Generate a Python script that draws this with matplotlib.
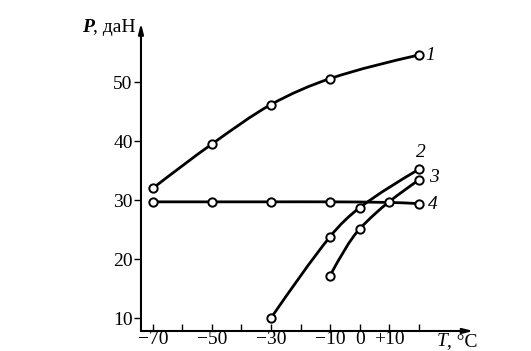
import numpy as np
import matplotlib
matplotlib.use("Agg")
import matplotlib.pyplot as plt
from matplotlib.path import Path
from matplotlib.patches import PathPatch

plt.rcParams['font.family'] = ['Liberation Serif', 'DejaVu Serif']

# curve data
t1 = [-70, -50, -30, -10, 20]
p1 = [32.0, 39.5, 46.2, 50.6, 54.6]
t2 = [-30, -10, 0, 20]
p2 = [10.0, 23.8, 28.7, 35.2]
t3 = [-10, 0, 20]
p3 = [17.2, 25.1, 33.4]
t4 = [-70, -50, -30, -10, 10, 20]
p4 = [29.7, 29.7, 29.7, 29.7, 29.6, 29.4]
curve_labels = ['1', '2', '3', '4']

x_ticks = [-70, -50, -30, -10, 0, 10]
x_ticklabels = ['\u221270', '\u221250', '\u221230', '\u221210', '0', '+10']
x_minor = [-60, -40, -20, 20]
y_ticks = [10, 20, 30, 40, 50]


def smooth_path(xs, ys):
    # hermite curve through the points, drawn as cubic bezier segments
    x = np.asarray(xs, float)
    y = np.asarray(ys, float)
    s = np.diff(y) / np.diff(x)
    m = np.empty_like(x)
    if len(x) > 2:
        m[1:-1] = (y[2:] - y[:-2]) / (x[2:] - x[:-2])
        m[0] = (3 * s[0] - m[1]) / 2
        m[-1] = (3 * s[-1] - m[-2]) / 2
    else:
        m[:] = s[0]
    verts = [(x[0], y[0])]
    codes = [Path.MOVETO]
    for i in range(len(x) - 1):
        h = x[i + 1] - x[i]
        verts += [(x[i] + h / 3, y[i] + m[i] * h / 3),
                  (x[i + 1] - h / 3, y[i + 1] - m[i + 1] * h / 3),
                  (x[i + 1], y[i + 1])]
        codes += [Path.CURVE4] * 3
    return Path(verts, codes)


fig = plt.figure(figsize=(5.31, 3.51), dpi=100)
ax = fig.add_axes([0.2655, 0.057, 0.626, 0.877])
ax.set_xlim(-74.0, 38.5)
ax.set_ylim(7.8, 60)

for xs, ys in [(t1, p1), (t2, p2), (t3, p3), (t4, p4)]:
    ax.add_patch(PathPatch(smooth_path(xs, ys), fill=False, lw=2.0,
                           color='black', zorder=2))
    ax.plot(xs, ys, 'o', ms=6, mfc='white', mec='black', mew=1.4,
            zorder=3, clip_on=False)

for lab, x, y in [(curve_labels[0], 24, 54.6), (curve_labels[1], 20.7, 38.0),
                  (curve_labels[2], 25.2, 33.8), (curve_labels[3], 24.8, 29.3)]:
    ax.text(x, y, lab, fontsize=14, style='italic', ha='center', va='center')

for s in ['top', 'right', 'left', 'bottom']:
    ax.spines[s].set_visible(False)
ax.annotate('', xy=(1.0, 0), xytext=(0, 0), xycoords='axes fraction',
            arrowprops=dict(arrowstyle='-|>,head_length=0.6,head_width=0.15',
                            lw=1.5, color='black', shrinkA=0, shrinkB=0))
ax.annotate('', xy=(0, 1.0), xytext=(0, 0), xycoords='axes fraction',
            arrowprops=dict(arrowstyle='-|>,head_length=0.6,head_width=0.15',
                            lw=1.5, color='black', shrinkA=0, shrinkB=0))

ax.set_xticks(x_ticks)
ax.set_xticklabels(x_ticklabels, fontsize=14)
ax.set_xticks(x_minor, minor=True)
ax.tick_params(axis='x', which='both', direction='in', length=5, width=1,
               pad=0)
ax.set_yticks(y_ticks)
ax.set_yticklabels([str(v) for v in y_ticks], fontsize=14)
ax.tick_params(axis='y', direction='out', length=5, width=1, pad=1)

fig.text(437 / 531, 1 - 342 / 351, 'T', fontsize=14, style='italic',
         ha='left', va='center')
fig.text(447 / 531, 1 - 342 / 351, ', \u00b0C', fontsize=14,
         ha='left', va='center')
fig.text(82 / 531, 1 - 27 / 351, 'P', fontsize=14, style='italic',
         weight='bold', ha='left', va='center')
fig.text(93 / 531, 1 - 27 / 351, ', даН', fontsize=14,
         ha='left', va='center')

fig.savefig('out.png', dpi=100, facecolor='white')
